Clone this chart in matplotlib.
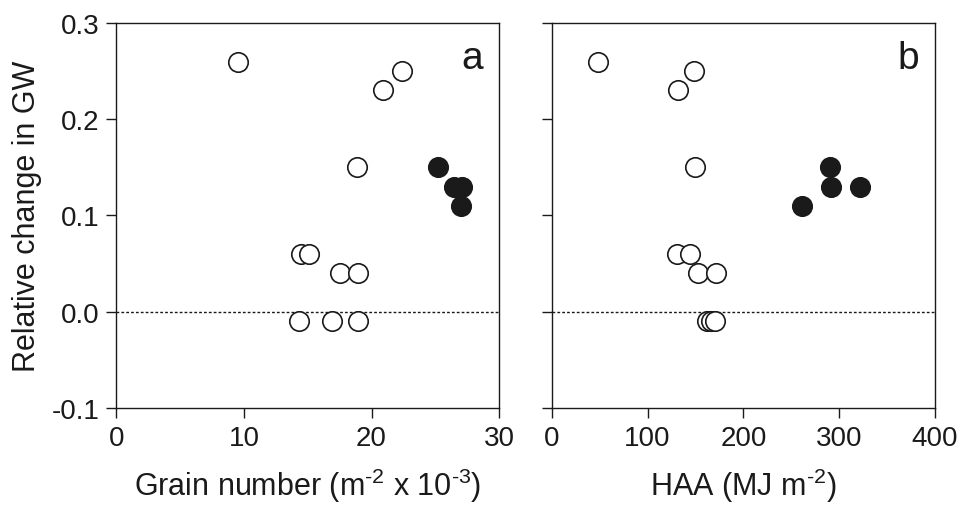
import matplotlib
matplotlib.use('Agg')
import matplotlib.pyplot as plt
from matplotlib.ticker import FormatStrFormatter

plt.rcParams['font.family'] = ['Liberation Sans', 'DejaVu Sans']
plt.rcParams['axes.unicode_minus'] = False
plt.rcParams['mathtext.fontset'] = 'custom'
plt.rcParams['mathtext.rm'] = 'Liberation Sans'

# Pannello a: numero di granelli
grain_open = [9.55, 22.4, 20.9, 18.85, 14.5, 15.1, 17.5, 18.9, 14.3, 16.9, 18.9]
gw_open_a = [0.26, 0.25, 0.23, 0.15, 0.06, 0.06, 0.04, 0.04, -0.01, -0.01, -0.01]
grain_filled = [25.2, 26.5, 27.1, 27.0]
gw_filled_a = [0.15, 0.13, 0.13, 0.11]

# Pannello b: HAA
haa_open = [48.7, 149, 132, 150, 131, 144, 153, 171, 162, 166, 170]
gw_open_b = [0.26, 0.25, 0.23, 0.15, 0.06, 0.06, 0.04, 0.04, -0.01, -0.01, -0.01]
haa_filled = [290, 291, 322, 261]
gw_filled_b = [0.15, 0.13, 0.13, 0.11]

ink = '#1a1a1a'
fig = plt.figure(figsize=(9.58, 5.06), dpi=100)
ax_a = fig.add_axes([0.1215, 0.192, 0.3995, 0.7605])
ax_b = fig.add_axes([0.5759, 0.192, 0.4001, 0.7605])

pannelli = [
    (ax_a, grain_open, gw_open_a, grain_filled, gw_filled_a, (0, 30), [0, 10, 20, 30],
     'Grain number (m$^{\\text{-2}}$ x 10$^{\\text{-3}}$)', 'a'),
    (ax_b, haa_open, gw_open_b, haa_filled, gw_filled_b, (0, 400), [0, 100, 200, 300, 400],
     'HAA (MJ m$^{\\text{-2}}$)', 'b'),
]

for ax, xo, yo, xf, yf, xlim, xt, xlab, tag in pannelli:
    ax.axhline(0, color=ink, linewidth=1.0, linestyle=(0, (2.0, 1.5)), zorder=1)
    ax.plot(xo, yo, 'o', ms=14, mfc='white', mec=ink, mew=1.2, linestyle='none', zorder=3)
    ax.plot(xf, yf, 'o', ms=14, mfc=ink, mec=ink, mew=1.2, linestyle='none', zorder=4)
    ax.set_xlim(*xlim)
    ax.set_ylim(-0.1, 0.3)
    ax.set_xticks(xt)
    ax.set_yticks([-0.1, 0.0, 0.1, 0.2, 0.3])
    ax.yaxis.set_major_formatter(FormatStrFormatter('%.1f'))
    ax.tick_params(direction='out', length=7, width=1.0, colors=ink, labelsize=20, pad=5)
    for s in ax.spines.values():
        s.set_linewidth(1.0)
        s.set_color(ink)
    ax.set_xlabel(xlab, fontsize=22, color=ink, labelpad=11)
    ax.text(0.93, 0.91, tag, transform=ax.transAxes, fontsize=28, color=ink,
            ha='center', va='center')

ax_b.tick_params(labelleft=False)
ax_a.set_ylabel('Relative change in GW', fontsize=22, color=ink, labelpad=7)

fig.savefig('out.png', dpi=100)
